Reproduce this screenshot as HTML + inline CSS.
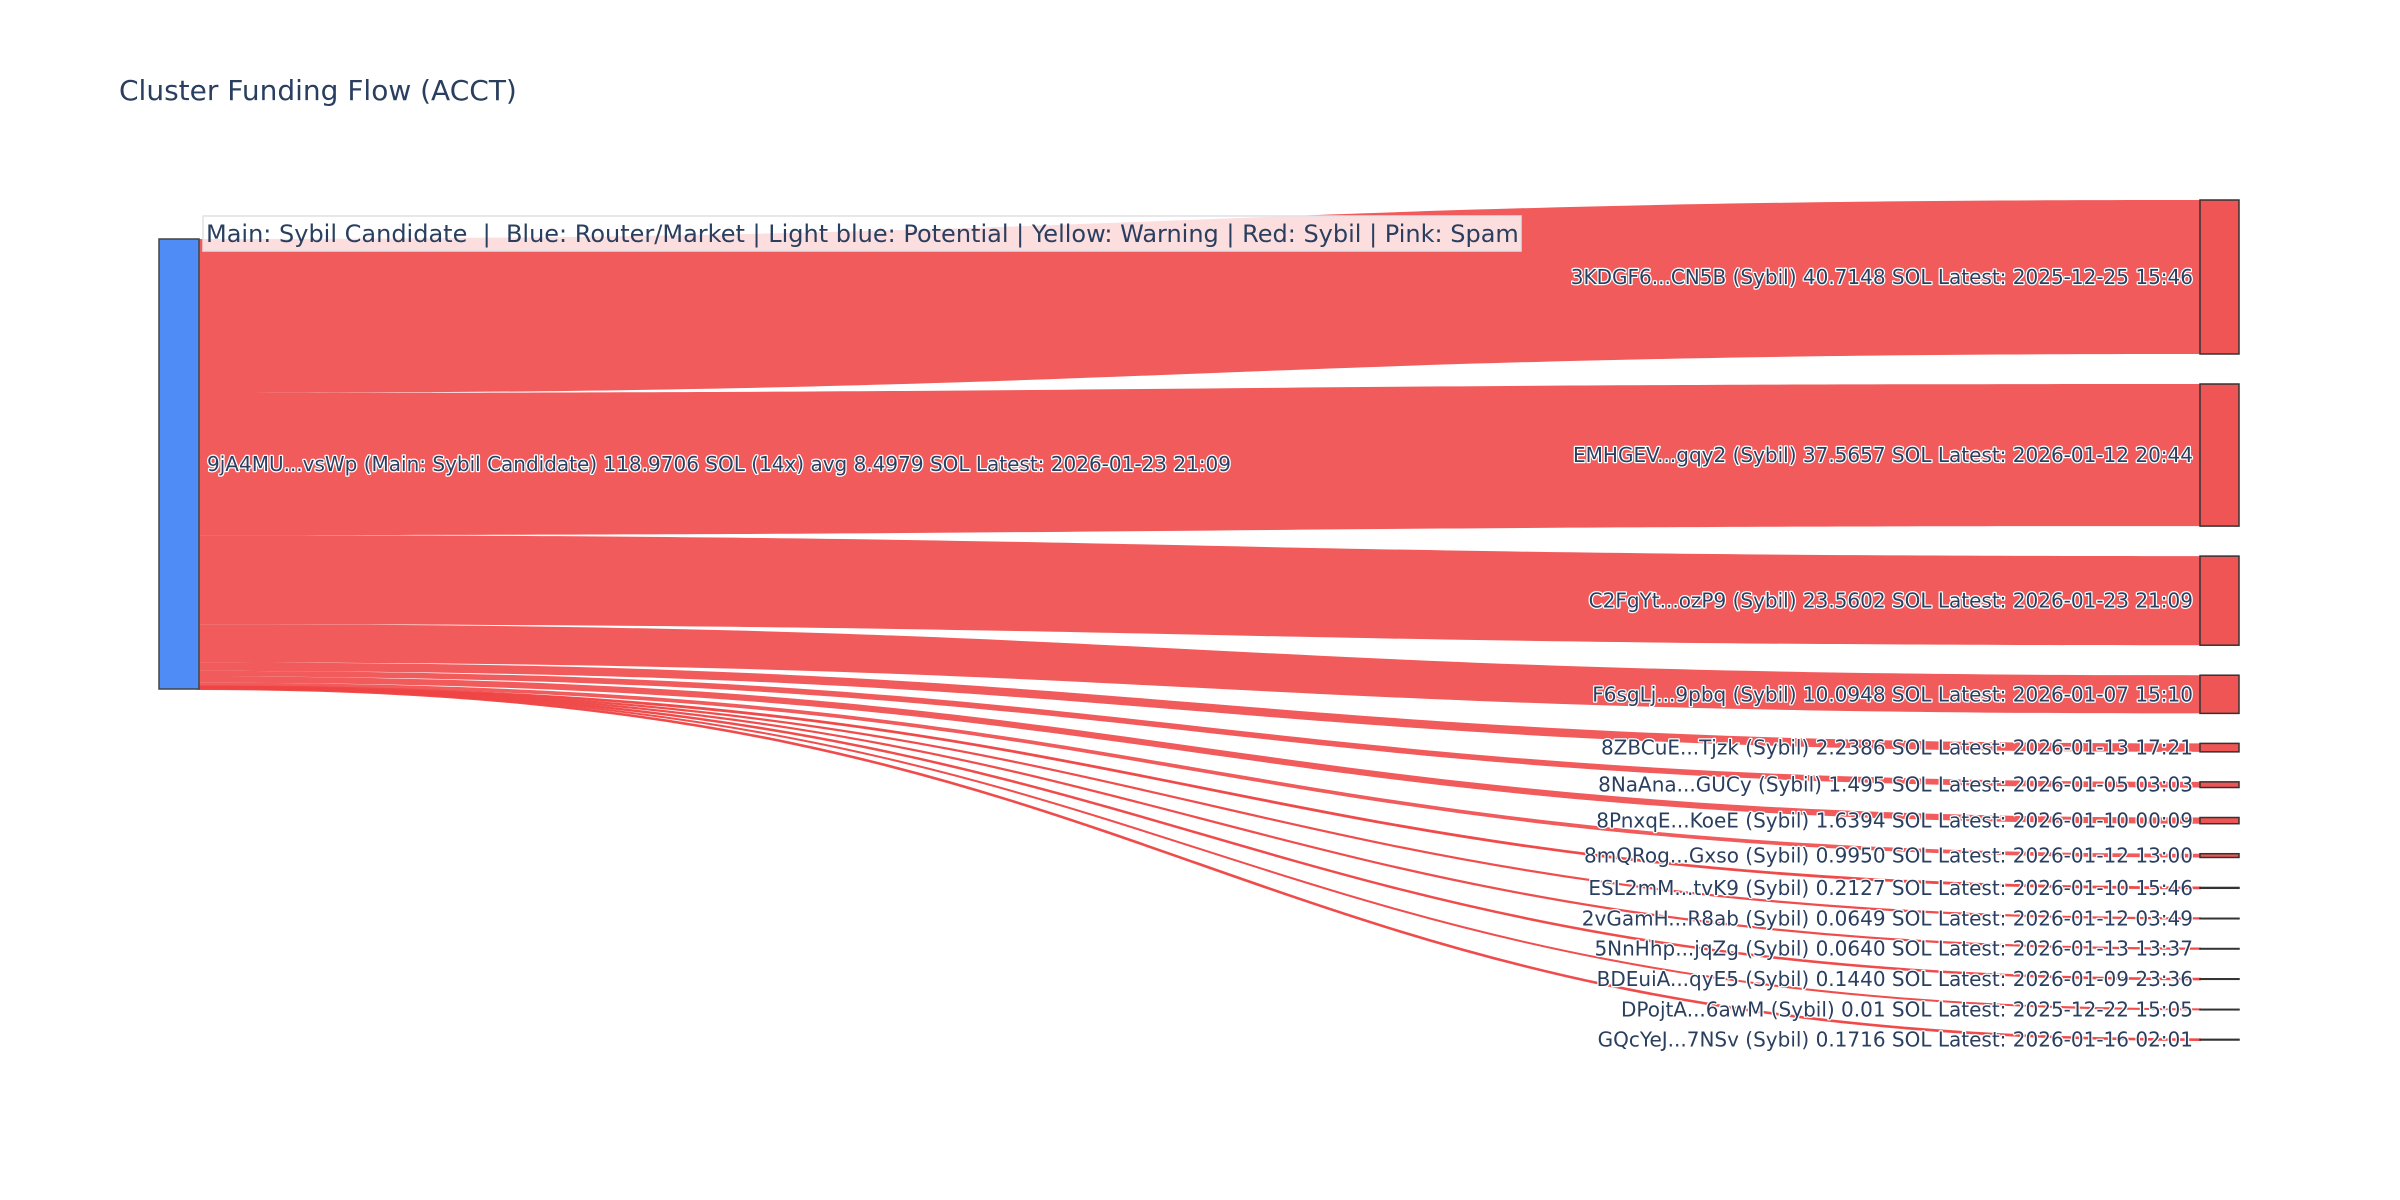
<!DOCTYPE html>
<html><head><meta charset="utf-8">
<style>
html,body{margin:0;padding:0;background:#fff;}
svg{display:block;}
text{font-family:"DejaVu Sans","Liberation Sans",sans-serif;fill:#2a3f5f;}
.lbl{font-size:20px;paint-order:stroke;stroke:#fff;stroke-width:2.5px;stroke-linejoin:round;}
</style></head>
<body>
<svg id="chart" width="2400" height="1200" viewBox="0 0 2400 1200" xmlns="http://www.w3.org/2000/svg">
  <rect width="2400" height="1200" fill="#fff"/>
  <text x="119" y="100" style="font-size:28px">Cluster Funding Flow (ACCT)</text>
  <g id="links"></g>
  <g id="nodes"></g>
  <g id="labels"></g>
  <g>
    <rect x="203" y="216" width="1318" height="35" fill="rgba(255,255,255,0.8)" stroke="#e0e0e6" stroke-width="1.5"/>
    <text x="206" y="242" style="font-size:24px;white-space:pre" xml:space="preserve">Main: Sybil Candidate  |  Blue: Router/Market | Light blue: Potential | Yellow: Warning | Red: Sybil | Pink: Spam</text>
  </g>
</svg>
<script>
const sourceLabel = "9jA4MU...vsWp (Main: Sybil Candidate) 118.9706 SOL (14x) avg 8.4979 SOL Latest: 2026-01-23 21:09";
const targetNames = ["3KDGF6...CN5B","EMHGEV...gqy2","C2FgYt...ozP9","F6sgLj...9pbq","8ZBCuE...Tjzk","8NaAna...GUCy","8PnxqE...KoeE","8mQRog...Gxso","ESL2mM...tvK9","2vGamH...R8ab","5NnHhp...jqZg","BDEuiA...qyE5","DPojtA...6awM","GQcYeJ...7NSv"];
const targetValues = [40.7148,37.5657,23.5602,10.0948,2.2386,1.495,1.6394,0.9950,0.2127,0.0649,0.0640,0.1440,0.01,0.1716];
const valueText = ["40.7148","37.5657","23.5602","10.0948","2.2386","1.495","1.6394","0.9950","0.2127","0.0649","0.0640","0.1440","0.01","0.1716"];
const latestText = ["2025-12-25 15:46","2026-01-12 20:44","2026-01-23 21:09","2026-01-07 15:10","2026-01-13 17:21","2026-01-05 03:03","2026-01-10 00:09","2026-01-12 13:00","2026-01-10 15:46","2026-01-12 03:49","2026-01-13 13:37","2026-01-09 23:36","2025-12-22 15:05","2026-01-16 02:01"];

const NS = "http://www.w3.org/2000/svg";
const total = targetValues.reduce((a,b)=>a+b,0);
const k = 450 / total;
const pad = 30;
const srcX0 = 159, srcX1 = 199, tgtX0 = 2200, tgtX1 = 2239;
const srcTop = 239, tgtTop = 200;
function mk(tag, attrs){const e=document.createElementNS(NS,tag);for(const a in attrs)e.setAttribute(a,attrs[a]);return e;}
const gL=document.getElementById('links'), gN=document.getElementById('nodes'), gT=document.getElementById('labels');

const srcH = total*k;
const sn = mk('rect',{x:srcX0,y:srcTop,width:srcX1-srcX0,height:srcH,fill:'#4f8cf6',stroke:'#444','stroke-width':1.5});


gN.appendChild(sn);
const st = mk('text',{x:207,y:srcTop+srcH/2+7,class:'lbl'}); st.textContent=sourceLabel;


gT.appendChild(st);

let sy = srcTop, ty = tgtTop;
const mx = (srcX1+tgtX0)/2;
targetValues.forEach((v,i)=>{
  const h = v*k;
  const p = mk('path',{d:`M${srcX1},${sy} C${mx},${sy} ${mx},${ty} ${tgtX0},${ty} L${tgtX0},${ty+h} C${mx},${ty+h} ${mx},${sy+h} ${srcX1},${sy+h} Z`,fill:'rgba(239,68,68,0.88)'});
  if(h<2){p.setAttribute('stroke','rgba(239,68,68,0.95)');p.setAttribute('stroke-width',2);}
  
  
  gL.appendChild(p);
  const n = mk('rect',{x:tgtX0,y:ty,width:tgtX1-tgtX0,height:Math.max(h,0.5),fill:'#ef5555',stroke:'#333','stroke-width':1.5});
  
  
  gN.appendChild(n);
  const t = mk('text',{x:2193,y:ty+h/2+7,'text-anchor':'end',class:'lbl'});
  t.textContent = targetNames[i]+" (Sybil) "+valueText[i]+" SOL Latest: "+latestText[i];
  
  
  gT.appendChild(t);
  sy += h; ty += h + pad;
});
</script>
</body></html>
